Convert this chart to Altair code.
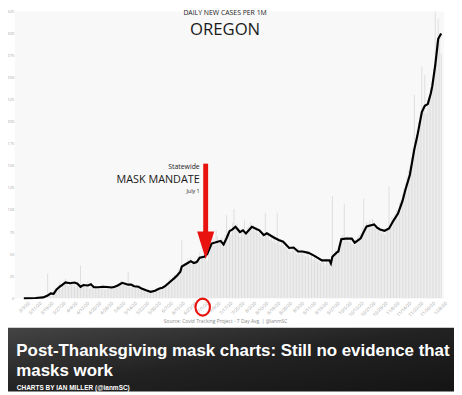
import altair as alt
import pandas as pd

# ---------------- data ----------------
line_dates = ["2020/03/01","2020/03/09","2020/03/14","2020/03/17","2020/03/19","2020/03/21","2020/03/23","2020/03/25","2020/03/27","2020/03/29",
"2020/04/01","2020/04/04","2020/04/06","2020/04/08","2020/04/10","2020/04/13","2020/04/15","2020/04/17","2020/04/20","2020/04/23","2020/04/26","2020/04/29",
"2020/05/01","2020/05/03","2020/05/06","2020/05/08","2020/05/10","2020/05/12","2020/05/14","2020/05/17","2020/05/19","2020/05/22","2020/05/25","2020/05/28","2020/05/31",
"2020/06/02","2020/06/04","2020/06/07","2020/06/10","2020/06/12","2020/06/14","2020/06/15","2020/06/17","2020/06/19","2020/06/21","2020/06/23","2020/06/25","2020/06/27","2020/06/30",
"2020/07/02","2020/07/05","2020/07/09","2020/07/11","2020/07/13","2020/07/15","2020/07/17","2020/07/19","2020/07/21","2020/07/24","2020/07/26","2020/07/28",
"2020/08/01","2020/08/04","2020/08/06","2020/08/09","2020/08/11","2020/08/16","2020/08/19","2020/08/22","2020/08/26","2020/08/29",
"2020/09/01","2020/09/04","2020/09/08","2020/09/12","2020/09/17","2020/09/20","2020/09/22","2020/09/23","2020/09/24","2020/09/27","2020/09/28","2020/09/30",
"2020/10/03","2020/10/07","2020/10/09","2020/10/13","2020/10/15","2020/10/17","2020/10/22","2020/10/24","2020/10/26","2020/10/29",
"2020/11/01","2020/11/04","2020/11/07","2020/11/10","2020/11/12","2020/11/15","2020/11/18","2020/11/20","2020/11/23","2020/11/25","2020/11/27","2020/11/29","2020/11/30",
"2020/12/02","2020/12/04","2020/12/06"]
line_values = [0,0.3,1,3,5.5,5,10,13,15.5,18,
17,17.8,16.5,13,15,14.5,15.8,12.5,12.5,13,12.8,12.2,
13,14.5,17.5,16.5,15.4,15.5,13.6,13,11,9,7.3,8.5,11,
12,14,18.4,22.8,26,30,36,38,40,42,40,41,46,47,
50,62,64,65,61,68,76,78,81,75,77,73.5,
81,78.5,77,71.6,73.7,68.6,66,64,57,57.5,
53,53,51.4,48,43,43,43,39.5,47,52,53,67,
67.5,67.5,63,68,75,81.5,83.7,80,78,76.5,
79,88,96,110,123,140,169,184,211,218,220,232,240,
264,294,300]

bar_start = "2020-03-01"
bar_values = [0,0,0,0.5,0,0.3,0.5,
0.5,0.3,0.8,1,1.5,0.8,2,
3,4,28,5,6,3,9,
12,10,15,18,11,14,20,
22,17,14,19,20,18,16,
13,19,12,37,15,17,13,
16,19,11,14,12,10,15,
13,11,14,12,16,10,13,
14,12,11,15,13,14,12,
16,15,20,19,17,18,14,
30,13,16,14,12,13,15,
12,10,13,9,8,10,9,
6,8,7,9,10,12,8,
12,14,11,15,16,13,20,
22,19,25,27,24,29,33,
35,66,34,40,37,45,41,
46,38,42,44,40,48,52,
45,50,60,55,42,58,65,
62,68,60,77,70,63,66,
69,58,72,94,75,80,72,
85,101,78,84,80,70,79,
75,88,73,80,82,86,78,
83,76,81,74,79,70,73,
68,97,71,75,66,70,64,
72,63,97,68,60,65,62,
58,63,55,60,52,58,56,
54,50,57,49,55,52,51,
48,53,50,46,49,44,47,
45,42,46,40,44,41,38,
45,40,42,36,116,50,55,
52,60,58,70,72,107,66,
70,64,68,62,65,60,66,
70,72,74,80,113,82,86,
84,88,80,90,85,79,83,
77,80,74,78,72,76,80,
127,85,92,90,96,100,98,
108,112,118,125,130,138,145,
150,160,170,231,180,190,200,
205,262,215,253,210,225,230,
240,245,260,325,290,316,300,
277]

tick_dates = ["2020/03/03","2020/03/11","2020/03/19","2020/03/27","2020/04/04","2020/04/12","2020/04/20","2020/04/28",
"2020/05/06","2020/05/14","2020/05/22","2020/05/30","2020/06/07","2020/06/15","2020/06/23","2020/07/01","2020/07/09","2020/07/17",
"2020/07/25","2020/08/02","2020/08/10","2020/08/18","2020/08/26","2020/09/03","2020/09/11","2020/09/19","2020/09/27","2020/10/05",
"2020/10/13","2020/10/21","2020/10/29","2020/11/06","2020/11/14","2020/11/22","2020/11/30","2020/12/08"]
y_ticks = [0,25,50,75,100,125,150,175,200,225,250,275,300,325]
x_domain = ["2020/02/24", "2020/12/08"]

chart_sub = "DAILY NEW CASES PER 1M"
chart_title = "OREGON"
note_lines = ["Statewide", "MASK MANDATE", "July 1"]
source_text = "Source: Covid Tracking Project - 7 Day Avg. | @ianmSC"
banner_title = ["Post-Thanksgiving mask charts: Still no evidence that", "masks work"]
banner_credit = "CHARTS BY IAN MILLER (@ianmSC)"

# annotation anchors (data coordinates)
title_anchor = {"date": "2020/07/14", "sub": 320.5, "main": 298.3}
note_anchor = {"date": "2020/06/27", "vals": [146.9, 130.2, 119.1]}
arrow = {"date": "2020/07/01", "top": 152.5, "bottom": 72.3, "head": 60.1}
circle_anchor = {"date": "2020/06/29", "value": -10}

# ---------------- build ----------------
def dt(s):
    y, m, d = s.split(" ")[0].split("/")
    return alt.DateTime(year=int(y), month=int(m), date=int(d))

line_df = pd.DataFrame({"date": line_dates, "value": line_values})
bar_df = pd.DataFrame({
    "date": pd.date_range(bar_start, periods=len(bar_values), freq="D").strftime("%Y/%m/%d"),
    "value": bar_values,
})

FONT = "Open Sans"
xscale = alt.Scale(domain=[dt(s) for s in x_domain], padding=0)
yscale = alt.Scale(domain=[0, 325], nice=False, padding=0)

xaxis = alt.Axis(values=[dt(s) for s in tick_dates], format="%-m/%-d/%y", labelAngle=-45,
                 labelFontSize=4.6, labelColor="#a0a0a0", labelFont=FONT, labelPadding=2,
                 ticks=False, domain=False, grid=False, labelOverlap=False, labelBound=False,
                 labelFlush=False,
                 title=source_text, titleFontSize=5, titleFont=FONT, titleColor="#8a8a8a",
                 titleFontWeight="normal", titleX=214, titleY=22.5, titleBaseline="middle",
                 titleAlign="center")
yaxis = alt.Axis(values=y_ticks, labelFontSize=4.2, labelColor="#a8a8a8", labelFont=FONT,
                 labelPadding=1, ticks=False, domain=False, grid=False, title=None,
                 labelOverlap=False, labelBound=False, labelFlush=False)

XA = lambda f: alt.X(f, scale=xscale, axis=xaxis, title=source_text)
YA = lambda f: alt.Y(f, scale=yscale, axis=yaxis, title=None)

bars = alt.Chart(bar_df).mark_bar(width=1, color="#dedede").encode(x=XA("date:T"), y=YA("value:Q"))
line = alt.Chart(line_df).mark_line(color="#000000", strokeWidth=2.2).encode(x=XA("date:T"), y=YA("value:Q"))

title_df = pd.DataFrame({"date": [title_anchor["date"]] * 2,
                         "value": [title_anchor["sub"], title_anchor["main"]],
                         "text": [chart_sub, chart_title], "size": [7, 17]})
titles = alt.Chart(title_df).mark_text(font=FONT, color="#1a1a1a", align="center", baseline="alphabetic").encode(
    x=XA("date:T"), y=YA("value:Q"), text="text:N",
    size=alt.Size("size:Q", scale=None, legend=None))

note_df = pd.DataFrame({"date": [note_anchor["date"]] * 3, "value": note_anchor["vals"],
                        "text": note_lines, "size": [7, 11, 5.5]})
notes = alt.Chart(note_df).mark_text(font=FONT, color="#1a1a1a", align="right", baseline="alphabetic").encode(
    x=XA("date:T"), y=YA("value:Q"), text="text:N",
    size=alt.Size("size:Q", scale=None, legend=None))

arrow_df = pd.DataFrame({"date": [arrow["date"]], "top": [arrow["top"]], "bottom": [arrow["bottom"]],
                         "head": [arrow["head"]]})
shaft = alt.Chart(arrow_df).mark_rule(color="#e8130f", strokeWidth=5).encode(
    x=XA("date:T"), y=YA("top:Q"), y2="bottom:Q")
head = alt.Chart(arrow_df).mark_point(shape="M-0.62,-1L0.62,-1L0,1Z", filled=True, size=784,
                                      color="#e8130f", opacity=1).encode(
    x=XA("date:T"), y=YA("head:Q"))

circ_df = pd.DataFrame({"date": [circle_anchor["date"]], "value": [circle_anchor["value"]]})
circle = alt.Chart(circ_df).mark_point(shape="M-0.85,0A0.85,1,0,1,0,0.85,0A0.85,1,0,1,0,-0.85,0Z",
                                       filled=False, size=300, color="#e8130f",
                                       strokeWidth=2.2, opacity=1).encode(
    x=XA("date:T"), y=YA("value:Q"))

one = alt.Data(values=[{}])
banner_bg = alt.Chart(one).mark_rect(color=alt.LinearGradient(
    gradient="linear", x1=0, y1=0, x2=1, y2=1,
    stops=[alt.GradientStop(color="#444444", offset=0), alt.GradientStop(color="#222222", offset=0.5),
           alt.GradientStop(color="#141414", offset=1)])).encode(
    x=alt.value(-7), x2=alt.value(447), y=alt.value(322), y2=alt.value(387))
banner_txt = alt.Chart(one).mark_text(font="Liberation Sans", fontWeight="bold", fontSize=17.2, color="#ffffff",
                                      align="left", baseline="alphabetic", lineHeight=20).encode(
    x=alt.value(1.5), y=alt.value(351), text=alt.value(banner_title))
banner_cr = alt.Chart(one).mark_text(font="Liberation Sans", fontWeight="bold", fontSize=6.6, color="#ffffff",
                                     align="left", baseline="alphabetic").encode(
    x=alt.value(2), y=alt.value(385), text=alt.value(banner_credit))

chart = alt.layer(bars, line, titles, notes, shaft, head, circle, banner_bg, banner_txt, banner_cr).properties(
    width=437, height=292, autosize=alt.AutoSizeParams(type="none"),
    padding={"left": 7, "top": 0, "right": 10, "bottom": 95}, background="#ffffff"
).configure_view(stroke=None, fill="#f8f8f8").configure_axis(labelOverlap=False)

chart.save("out.html", embed_options={"renderer": "svg", "actions": False})
